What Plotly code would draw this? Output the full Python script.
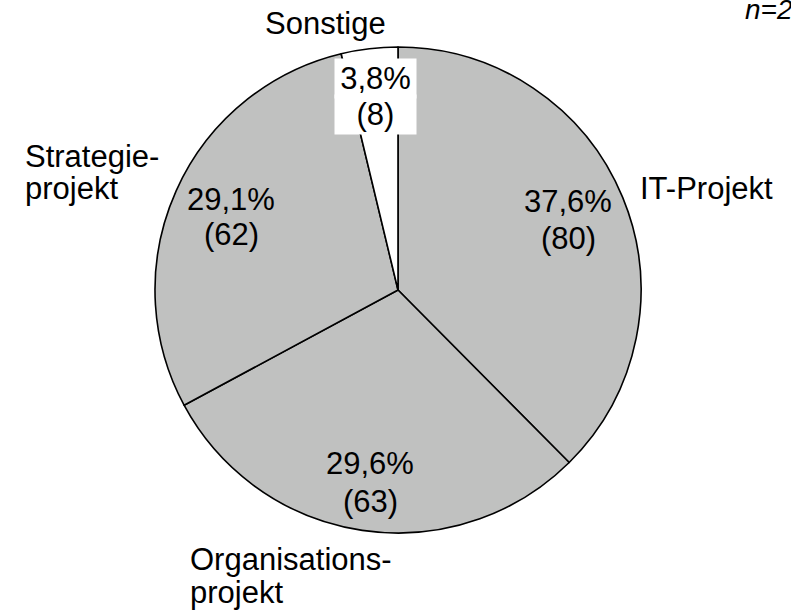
import plotly.graph_objects as go

# ---------------- data ----------------
categories = ["IT-Projekt", "Organisationsprojekt", "Strategieprojekt", "Sonstige"]
counts = [80, 63, 62, 8]
label_lines = [["IT-Projekt"], ["Organisations-", "projekt"], ["Strategie-", "projekt"], ["Sonstige"]]
slice_colors = ["#c0c1c0", "#c0c1c0", "#c0c1c0", "#ffffff"]

# ---------------- layout (pixels) ----------------
W, H = 791, 613
PIE_CX, PIE_CY, PIE_R = 398, 290, 243
FONT = "Liberation Sans, Arial, Helvetica, sans-serif"
FS = 31
# (x center, y of percent line, y of count line)
value_pos = [(568, 202, 238), (370, 463, 501), (231, 199, 235), (375, 78, 115)]
# (x, anchor, [y of each line])
name_pos = [(638, "left", [188]), (188, "left", [559, 592]),
            (23, "left", [156, 188]), (325, "center", [23.5])]

total = sum(counts)
pct_text = [f"{c / total * 100:.1f}%".replace(".", ",") for c in counts]
cnt_text = [f"({c})" for c in counts]


def px(x):
    return x / W


def py(y):
    return 1 - y / H


fig = go.Figure(
    go.Pie(
        labels=categories,
        values=counts,
        sort=False,
        direction="clockwise",
        rotation=0,
        textinfo="none",
        hoverinfo="label+value+percent",
        marker=dict(colors=slice_colors, line=dict(color="black", width=1.6)),
        domain=dict(x=[px(PIE_CX - PIE_R), px(PIE_CX + PIE_R)],
                    y=[py(PIE_CY + PIE_R), py(PIE_CY - PIE_R)]),
        showlegend=False,
    )
)

annotations = []
for i, cat in enumerate(categories):
    xc, y1, y2 = value_pos[i]
    white = slice_colors[i].lower() == "#ffffff"
    for txt, yy in ((pct_text[i], y1), (cnt_text[i], y2)):
        a = dict(text=txt, x=px(xc), y=py(yy), xref="paper", yref="paper",
                 xanchor="center", yanchor="middle", showarrow=False,
                 font=dict(family=FONT, size=FS, color="black"))
        if white:
            a.update(bgcolor="white", width=81, height=39, borderpad=0)
        annotations.append(a)
    nx, anc, ys = name_pos[i]
    for line, yy in zip(label_lines[i], ys):
        annotations.append(dict(text=line, x=px(nx), y=py(yy), xref="paper", yref="paper",
                                xanchor=anc, yanchor="middle", showarrow=False,
                                font=dict(family=FONT, size=FS, color="black")))

annotations.append(dict(text=f"<i>n={total}</i>", x=px(743), y=py(9), xref="paper", yref="paper",
                        xanchor="left", yanchor="middle", showarrow=False,
                        font=dict(family=FONT, size=28, color="black")))

fig.update_layout(
    width=W, height=H, autosize=False,
    margin=dict(l=0, r=0, t=0, b=0),
    paper_bgcolor="white", plot_bgcolor="white",
    annotations=annotations,
)

fig.write_html("out.html", config={"displayModeBar": False},
               post_script="document.body.style.margin='0';document.body.style.overflow='hidden';")
